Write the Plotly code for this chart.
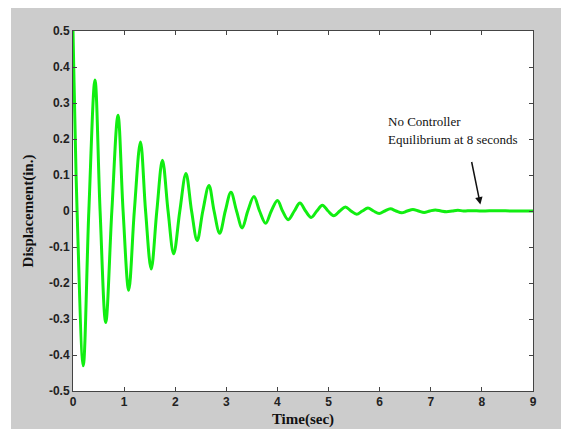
import plotly.graph_objects as go

# ---- data ----
time_s = [0.00, 0.02, 0.08, 0.20, 0.31, 0.43, 0.53, 0.64, 0.76, 0.88,
          0.98, 1.09, 1.20, 1.32, 1.42, 1.53, 1.64, 1.75, 1.86, 1.97,
          2.09, 2.21, 2.32, 2.43, 2.54, 2.66, 2.76, 2.87, 2.98, 3.09,
          3.20, 3.31, 3.42, 3.54, 3.65, 3.77, 3.88, 4.00, 4.10, 4.21,
          4.33, 4.44, 4.55, 4.66, 4.77, 4.88, 4.99, 5.10, 5.22, 5.33,
          5.44, 5.55, 5.66, 5.77, 5.88, 5.99, 6.10, 6.21, 6.32, 6.43,
          6.54, 6.65, 6.76, 6.87, 6.98, 7.09, 7.20, 7.31, 7.42, 7.53,
          7.64, 7.80, 8.00, 8.30, 8.60, 9.00]
displacement = [0.50, 0.36, 0.00, -0.43, 0.00, 0.364, 0.00, -0.31, 0.00, 0.266,
                0.00, -0.22, 0.00, 0.192, 0.00, -0.161, 0.00, 0.141, 0.00, -0.119,
                0.00, 0.104, 0.00, -0.082, 0.00, 0.071, 0.00, -0.062, 0.00, 0.052,
                0.00, -0.047, 0.00, 0.040, 0.00, -0.034, 0.00, 0.029, 0.00, -0.024,
                0.00, 0.022, 0.00, -0.018, 0.00, 0.016, 0.00, -0.013, 0.00, 0.011,
                0.00, -0.009, 0.00, 0.008, 0.00, -0.007, 0.00, 0.006, 0.00, -0.005,
                0.00, 0.004, 0.00, -0.004, 0.00, 0.003, 0.00, -0.002, 0.00, 0.002,
                0.00, 0.001, 0.00, 0.001, 0.00, 0.00]

x_tick_vals = [0, 1, 2, 3, 4, 5, 6, 7, 8, 9]
x_tick_text = ["0", "1", "2", "3", "4", "5", "6", "7", "8", "9"]
y_tick_vals = [0.5, 0.4, 0.3, 0.2, 0.1, 0.0, -0.1, -0.2, -0.3, -0.4, -0.5]
y_tick_text = ["0.5", "0.4", "0.3", "0.2", "0.1", "0", "-0.1", "-0.2", "-0.3", "-0.4", "-0.5"]

note_lines = ["No Controller", "Equilibrium at 8 seconds"]
arrow_target = (7.97, 0.018)

SERIF = "Liberation Serif, Times New Roman, serif"
SANS = "Liberation Sans, Arial, sans-serif"
AXIS_COLOR = "#444444"

M_L, M_R, M_T, M_B = 73, 28, 31, 38
W, H = 561, 429
PW, PH = W - M_L - M_R, H - M_T - M_B

fig = go.Figure()
fig.add_trace(go.Scatter(
    x=time_s, y=displacement, mode="lines",
    line=dict(color="#11ee11", width=3, shape="spline", smoothing=1.0),
    showlegend=False, hoverinfo="skip",
))

axis_common = dict(
    showgrid=False, zeroline=False, showline=True, linecolor=AXIS_COLOR, linewidth=1,
    mirror="ticks", ticks="inside", ticklen=4, tickcolor=AXIS_COLOR, tickwidth=1,
    tickfont=dict(family=SANS, size=12, color="#222222", weight="bold"),
    automargin=False,
)

fig.update_xaxes(range=[0, 9], tickvals=x_tick_vals, ticktext=x_tick_text,
                 title=dict(text="Time(sec)", standoff=5,
                            font=dict(family=SERIF, size=15, color="#111111", weight="bold")),
                 **axis_common)
fig.update_yaxes(range=[-0.5, 0.5], tickvals=y_tick_vals, ticktext=y_tick_text,
                 title=dict(text="Displacement(in.)", standoff=11,
                            font=dict(family=SERIF, size=15, color="#111111", weight="bold")),
                 **axis_common)

# gray figure background (with thin white strip at top and left as in reference)
fig.add_shape(type="rect", xref="paper", yref="paper",
              x0=(11 - M_L) / PW, x1=(W - M_L) / PW,
              y0=(H - M_B - H) / PH, y1=(H - M_B - 8) / PH,
              fillcolor="#cccccc", line=dict(width=0), layer="below")
fig.add_shape(type="rect", xref="x", yref="y", x0=0, x1=9, y0=-0.5, y1=0.5,
              fillcolor="white", line=dict(width=0), layer="below")

for txt, yv in zip(note_lines, [0.25, 0.20]):
    fig.add_annotation(x=6.115, y=yv, xref="x", yref="y", text=txt, showarrow=False,
                       xanchor="left", yanchor="middle",
                       font=dict(family=SERIF, size=13, color="#111111"))

fig.add_annotation(x=arrow_target[0], y=arrow_target[1], xref="x", yref="y", text="",
                   showarrow=True, ax=-9, ay=-44, arrowhead=2, arrowsize=1,
                   arrowwidth=1.5, arrowcolor="#111111", standoff=0)

fig.update_layout(
    width=W, height=H,
    margin=dict(l=M_L, r=M_R, t=M_T, b=M_B),
    paper_bgcolor="white", plot_bgcolor="white",
)

fig.write_html("out.html")
